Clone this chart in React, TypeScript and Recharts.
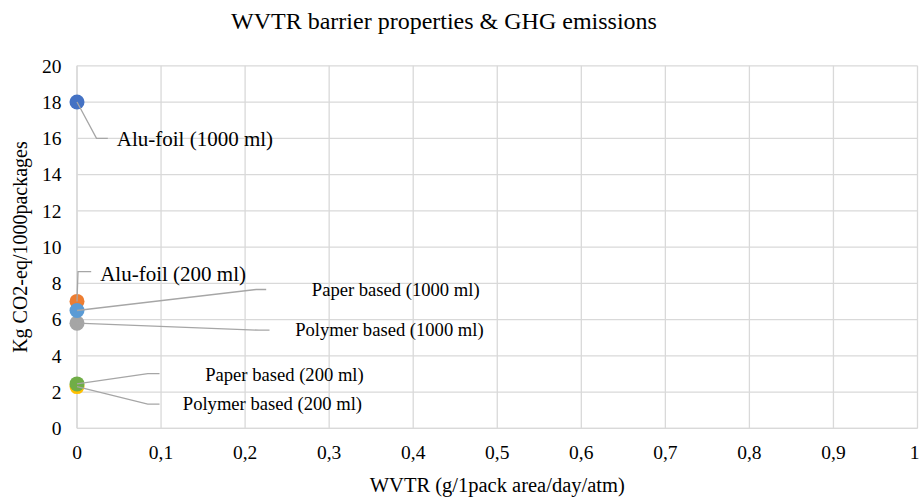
import React from 'react';
import {
  ScatterChart,
  Scatter,
  XAxis,
  YAxis,
  CartesianGrid,
  Cell,
  LabelList,
} from 'recharts';

// series in the order Excel draws them
const SERIES_NAMES = [
  'Alu-foil (1000 ml)',
  'Alu-foil (200 ml)',
  'Polymer based (1000 ml)',
  'Polymer based (200 ml)',
  'Paper based (1000 ml)',
  'Paper based (200 ml)',
];
const WVTR = [0, 0, 0, 0, 0, 0];
const GHG = [18, 7, 5.8, 2.3, 6.5, 2.45];

const X_TICKS = [0, 0.1, 0.2, 0.3, 0.4, 0.5, 0.6, 0.7, 0.8, 0.9, 1];
const Y_TICKS = [0, 2, 4, 6, 8, 10, 12, 14, 16, 18, 20];

const COLORS = ['#4472C4', '#ED7D31', '#A5A5A5', '#FFC000', '#5B9BD5', '#70AD47'];

// leader line elbows + text placement, px relative to the marker centre
const LABEL_LAYOUT = [
  { elbow: [19.5, 36.3], end: [30.8, 36.3], tx: 39.8, ty: 43.8, fs: 21 },
  { elbow: [1, -29.8], end: [14.2, -29.8], tx: 23.2, ty: -20.8, fs: 21 },
  { elbow: [182, 7], end: [192.5, 7], tx: 218.2, ty: 13.3, fs: 18.6 },
  { elbow: [70.8, 17.5], end: [82.5, 17.5], tx: 105.8, ty: 23.5, fs: 18.6 },
  { elbow: [179.2, -21], end: [189.2, -21], tx: 234.8, ty: -14.3, fs: 18.6 },
  { elbow: [70.8, -10.2], end: [82.5, -10.2], tx: 128.2, ty: -3.2, fs: 18.6 },
];

const FONT = '"Liberation Serif", "Times New Roman", serif';

const points = SERIES_NAMES.map((name, i) => ({ name, x: WVTR[i], y: GHG[i] }));

const fmt = (v: number) => String(v).replace('.', ',');

function XTick(props: any) {
  const { x, y, payload } = props;
  const last = payload.value === 1;
  return (
    <text
      x={last ? x + 2 : x}
      y={y}
      dy="0.71em"
      textAnchor={last ? 'end' : 'middle'}
      fontFamily={FONT}
      fontSize={19.5}
      fill="#000"
    >
      {fmt(payload.value)}
    </text>
  );
}

function Marker(props: any) {
  const { cx, cy, fill, payload } = props;
  const color = fill || COLORS[SERIES_NAMES.indexOf(payload?.name)];
  return <circle cx={cx} cy={cy} r={7.5} fill={color} />;
}

function LeaderLabel(props: any) {
  const { viewBox, index } = props;
  if (!viewBox) return null;
  const cx = viewBox.x + (viewBox.width || 0) / 2;
  const cy = viewBox.y + (viewBox.height || 0) / 2;
  const l = LABEL_LAYOUT[index];
  const pts = `${cx},${cy} ${cx + l.elbow[0]},${cy + l.elbow[1]} ${cx + l.end[0]},${cy + l.end[1]}`;
  return (
    <g>
      <polyline points={pts} fill="none" stroke="#a6a6a6" strokeWidth={1.3} />
      <text x={cx + l.tx} y={cy + l.ty} fontFamily={FONT} fontSize={l.fs} fill="#000">
        {SERIES_NAMES[index]}
      </text>
    </g>
  );
}

export default function App() {
  return (
    <div style={{ position: 'absolute', left: 0, top: 0, width: 920, height: 499, background: '#fff' }}>
      <div
        style={{
          position: 'absolute',
          left: 0,
          top: 9,
          width: 888,
          textAlign: 'center',
          fontFamily: FONT,
          fontSize: 24,
          lineHeight: '24px',
          color: '#000',
        }}
      >
        WVTR barrier properties &amp; GHG emissions
      </div>
      <ScatterChart
        width={920}
        height={499}
        margin={{ top: 65.8, right: 2.5, bottom: 0, left: 0 }}
      >
        <CartesianGrid stroke="#d9d9d9" strokeWidth={1.3} />
        <XAxis
          type="number"
          dataKey="x"
          domain={[0, 1]}
          ticks={X_TICKS}
          interval={0}
          height={70.7}
          axisLine={{ stroke: '#d9d9d9', strokeWidth: 1.3 }}
          tickLine={false}
          tickSize={0}
          tickMargin={17}
          tick={<XTick />}
          label={{
            value: 'WVTR (g/1pack area/day/atm)',
            position: 'insideBottom',
            offset: 7,
            style: { fontFamily: FONT, fontSize: 20.5, fill: '#000' },
          }}
        />
        <YAxis
          type="number"
          dataKey="y"
          domain={[0, 20]}
          ticks={Y_TICKS}
          interval={0}
          width={77}
          axisLine={{ stroke: '#d9d9d9', strokeWidth: 1.3 }}
          tickLine={false}
          tickSize={0}
          tickMargin={15.5}
          tick={{ fontFamily: FONT, fontSize: 19.5, fill: '#000' }}
          label={{
            value: 'Kg CO2-eq/1000packages',
            angle: -90,
            position: 'insideLeft',
            offset: 19.5,
            style: { fontFamily: FONT, fontSize: 20, fill: '#000', textAnchor: 'middle' },
          }}
        />
        <Scatter data={points} shape={<Marker />} isAnimationActive={false}>
          {points.map((p, i) => (
            <Cell key={p.name} fill={COLORS[i]} />
          ))}
          <LabelList dataKey="name" content={<LeaderLabel />} />
        </Scatter>
      </ScatterChart>
    </div>
  );
}
